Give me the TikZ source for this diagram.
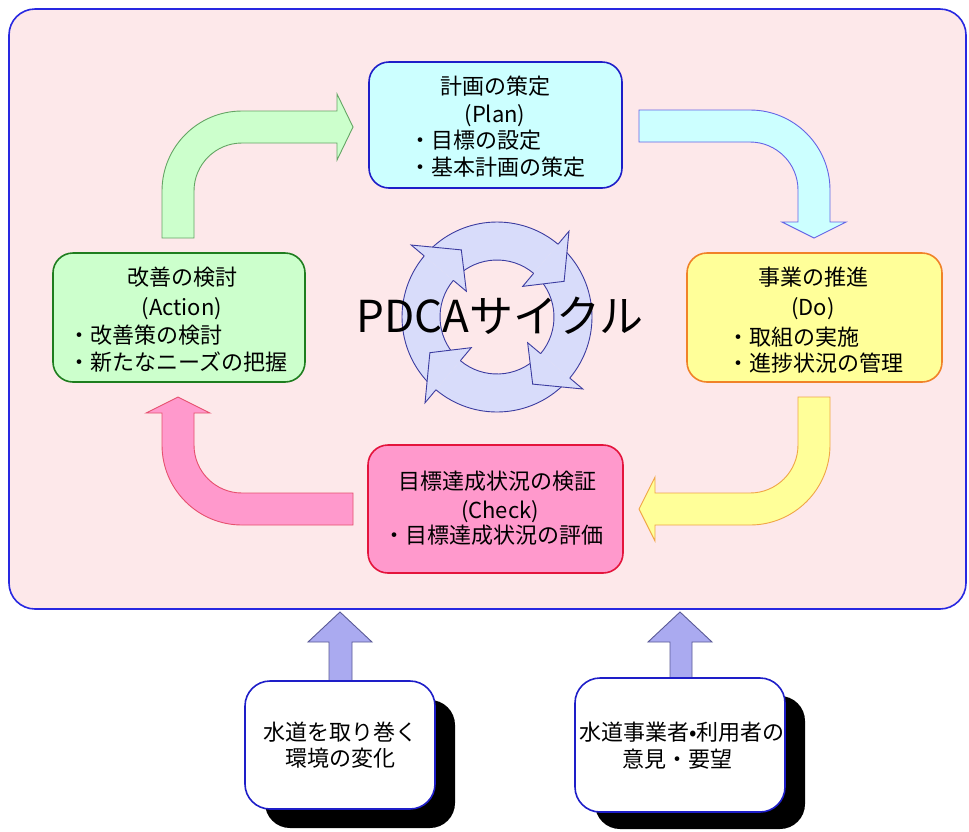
\documentclass[tikz,border=0pt]{standalone}
\usepackage{fontspec}
\setmainfont{Noto Sans CJK JP}
\definecolor{framefill}{RGB}{253,232,234}
\definecolor{frameline}{RGB}{40,40,225}
\definecolor{planfill}{RGB}{204,255,255}
\definecolor{planline}{RGB}{30,30,200}
\definecolor{dofill}{RGB}{255,255,153}
\definecolor{doline}{RGB}{240,130,40}
\definecolor{actfill}{RGB}{204,255,204}
\definecolor{actline}{RGB}{30,125,30}
\definecolor{chkfill}{RGB}{255,153,204}
\definecolor{chkline}{RGB}{228,20,60}
\definecolor{garrline}{RGB}{100,165,100}
\definecolor{barrline}{RGB}{100,100,230}
\definecolor{yarrline}{RGB}{240,165,70}
\definecolor{parrline}{RGB}{230,80,110}
\definecolor{ringfill}{RGB}{216,220,250}
\definecolor{ringline}{RGB}{60,60,160}
\definecolor{upfill}{RGB}{170,170,240}
\definecolor{upline}{RGB}{90,90,150}
\begin{document}
\begin{tikzpicture}[x=1pt,y=-1pt,
  txt/.style={inner sep=0pt, text height=19.4pt, text depth=2.6pt, font=\fontsize{22}{26}\selectfont},
  rbox/.style={rounded corners=20pt, line width=1.6pt, inner sep=0pt},
  blk/.style={line width=0.9pt},
]
\useasboundingbox (0,0) rectangle (969,831);
\fill[white] (0,0) rectangle (969,831);
% outer frame
\node[rbox, rounded corners=26pt, draw=frameline, fill=framefill, line width=1.6pt,
  minimum width=957pt, minimum height=600pt] (frame) at (487.5,309) {};

% curved block arrows
\filldraw[blk, fill=actfill, draw=garrline] (162,238) -- (162,191)
  arc[start angle=180, end angle=270, radius=80] -- (337,111) -- (337,94) -- (353,127)
  -- (337,160) -- (337,143) -- (242,143) arc[start angle=270, end angle=180, radius=48]
  -- (194,238) -- cycle;
\filldraw[blk, fill=planfill, draw=barrline] (639,110) -- (750,110)
  arc[start angle=270, end angle=360, radius=80] -- (830,222) -- (846,222) -- (814,238)
  -- (782,222) -- (798,222) -- (798,190) arc[start angle=0, end angle=-90, radius=48]
  -- (639,142) -- cycle;
\filldraw[blk, fill=dofill, draw=yarrline] (830,397) -- (830,445)
  arc[start angle=0, end angle=90, radius=80] -- (655,525) -- (655,541) -- (639,509)
  -- (655,477) -- (655,493) -- (750,493) arc[start angle=90, end angle=0, radius=48]
  -- (798,397) -- cycle;
\filldraw[blk, fill=chkfill, draw=parrline] (353,525) -- (242,525)
  arc[start angle=90, end angle=180, radius=80] -- (162,413) -- (146,413) -- (178,397)
  -- (210,413) -- (194,413) -- (194,445) arc[start angle=180, end angle=90, radius=48]
  -- (242,493) -- (353,493) -- cycle;

% phase boxes
\node[rbox, draw=planline, fill=planfill, minimum width=253pt, minimum height=126pt] (plan) at (495.5,125) {};
\node[rbox, draw=doline, fill=dofill, minimum width=255pt, minimum height=129pt] (do) at (814.5,317.5) {};
\node[rbox, draw=actline, fill=actfill, minimum width=252pt, minimum height=129pt] (act) at (179,317.5) {};
\node[rbox, draw=chkline, fill=chkfill, minimum width=255pt, minimum height=128pt] (chk) at (495.5,509) {};

\node[txt] (plan1) at (495,86) {計画の策定};
\node[txt] (plan2) at (495,114) {(Plan)};
\node[txt, anchor=west] (plan3) at (409,140) {・目標の設定};
\node[txt, anchor=west] (plan4) at (409,167) {・基本計画の策定};

\node[txt] (do1) at (813,277) {事業の推進};
\node[txt] (do2) at (813,307) {(Do)};
\node[txt, anchor=west] (do3) at (727,337) {・取組の実施};
\node[txt, anchor=west] (do4) at (727,363) {・進捗状況の管理};

\node[txt] (act1) at (182,277) {改善の検討};
\node[txt] (act2) at (182,307) {(Action)};
\node[txt, anchor=west] (act3) at (68,335) {・改善策の検討};
\node[txt, anchor=west] (act4) at (68,362) {・新たなニーズの把握};

\node[txt] (chk1) at (497,481) {目標達成状況の検証};
\node[txt] (chk2) at (500,510) {(Check)};
\node[txt, anchor=west] (chk3) at (383,535) {・目標達成状況の評価};

% PDCA ring
\begin{scope}[shift={(497,317)}]
  \foreach \b [evaluate=\b as \s using \b-85] in {220,310,40,130} {
    \fill[ringfill] (\s:95) arc[start angle=\s, end angle=\b, radius=95] -- (\b:57)
      arc[start angle=\b, end angle=\s, radius=57] -- cycle;
    \draw[ringline, line width=0.9pt] (\s:95) arc[start angle=\s, end angle=\b, radius=95];
    \draw[ringline, line width=0.9pt] (\s:57) arc[start angle=\s, end angle=\b, radius=57];
  }
  \foreach \b [evaluate=\b as \t using \b+22] in {220,310,40,130} {
    \fill[ringfill] (\b:112) -- (\t:76) -- (\b:40) -- cycle;
    \draw[ringline, line width=0.9pt, line join=miter] (\b:95) -- (\b:112) -- (\t:76) -- (\b:40) -- (\b:57);
  }
\end{scope}
\node[inner sep=0pt, text height=32pt, text depth=0pt, font=\fontsize{44}{50}\selectfont] (pdca) at (500,316) {PDCAサイクル};

% bottom inputs
\filldraw[blk, fill=upfill, draw=upline] (329,681) -- (329,642) -- (308,642) -- (340,612)
  -- (372,642) -- (352,642) -- (352,681) -- cycle;
\filldraw[blk, fill=upfill, draw=upline] (670,678) -- (670,642) -- (648,642) -- (680,612)
  -- (712,642) -- (692,642) -- (692,678) -- cycle;

\fill[black, rounded corners=25pt] (265,700) rectangle (455,828);
\node[rbox, rounded corners=25pt, draw=planline, fill=white, minimum width=190pt, minimum height=128pt] (env) at (340,745) {};
\fill[black, rounded corners=25pt] (595,696) rectangle (805,829);
\node[rbox, rounded corners=25pt, draw=planline, fill=white, minimum width=210pt, minimum height=134pt] (user) at (680,745) {};

\node[txt] (env1) at (340,732) {水道を取り巻く};
\node[txt] (env2) at (340,758) {環境の変化};
\node[txt] (user1) at (682,732) {水道事業者•利用者の};
\node[txt] (user2) at (677,759) {意見・要望};
\end{tikzpicture}
\end{document}
